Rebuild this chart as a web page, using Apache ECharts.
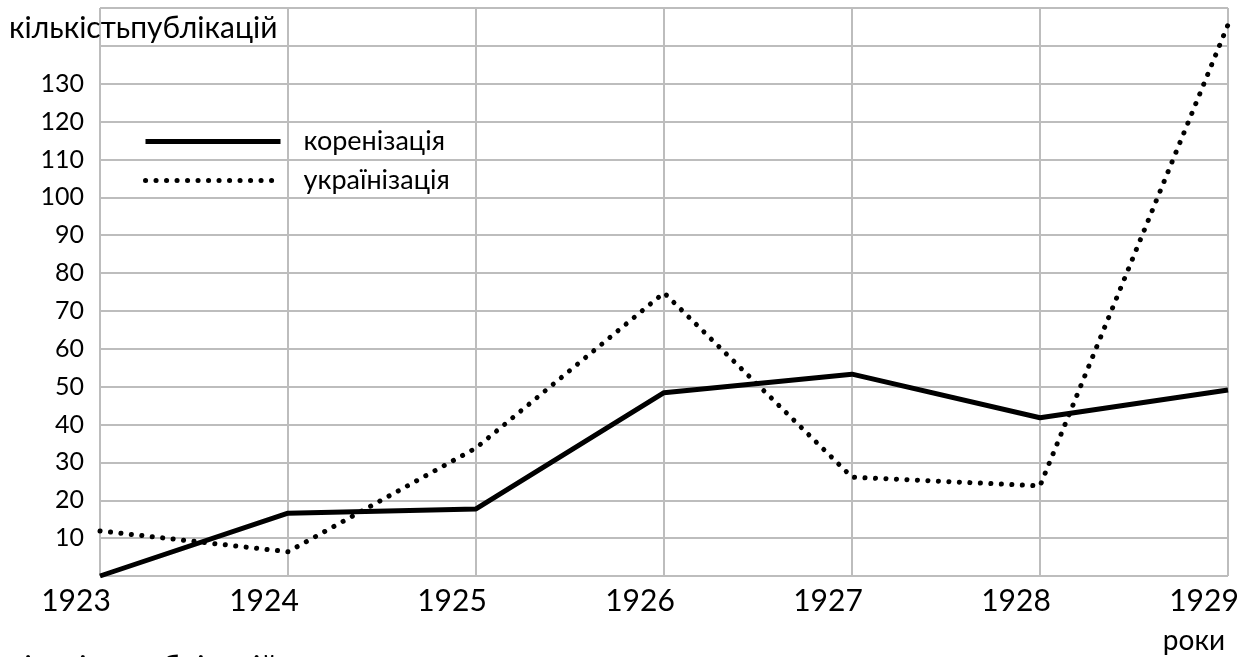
<!DOCTYPE html>
<html>
<head>
<meta charset="utf-8">
<script src="https://cdn.jsdelivr.net/npm/echarts@6/dist/echarts.min.js"></script>
<style>
  html, body { margin: 0; padding: 0; background: #fff; }
  #chart { width: 1248px; height: 657px; }
</style>
</head>
<body>
<div id="chart"></div>
<script>
// дані з графіка
const years = ['1923', '1924', '1925', '1926', '1927', '1928', '1929']
const korenizatsiia = [0, 16.6, 17.7, 48.4, 53.3, 41.8, 49.1]
const ukrainizatsiia = [11.9, 6.4, 33.8, 74.8, 26.1, 23.8, 145.6]
const seriesNames = ['коренізація', 'українізація']
const yTicksShown = [10, 20, 30, 40, 50, 60, 70, 80, 90, 100, 110, 120, 130]

const FONT = 'Lato'
const GRID_COLOR = '#bdbdbd'
const solid = { width: 5, color: '#000', opacity: 1 }
const dotted = { width: 5, color: '#000', opacity: 1, type: [0.1, 10.4], cap: 'round' }

const chartDom = document.getElementById('chart')
const myChart = echarts.init(chartDom)

const option = {
  backgroundColor: '#fff',
  animation: false,
  title: [
    {
      text: 'кількістьпублікацій',
      left: 4, top: 8,
      textStyle: { fontFamily: FONT, fontSize: 30, fontWeight: 'normal', color: '#000' }
    },
    {
      text: 'роки',
      right: 18, top: 622,
      textStyle: { fontFamily: FONT, fontSize: 28, fontWeight: 'normal', color: '#000' }
    },
    {
      // обрізаний підпис унизу
      text: 'кількістьпублікацій',
      left: 4, top: 647,
      textStyle: { fontFamily: FONT, fontSize: 30, fontWeight: 'normal', color: '#000' }
    }
  ],
  legend: {
    orient: 'vertical',
    left: 138, top: 123,
    itemWidth: 135, itemHeight: 20, itemGap: 12,
    textStyle: { fontFamily: FONT, fontSize: 27, color: '#000', padding: [0, 0, 0, 18] },
    data: [
      { name: seriesNames[0], lineStyle: solid, itemStyle: { opacity: 0 } },
      { name: seriesNames[1], lineStyle: dotted, itemStyle: { opacity: 0 } }
    ]
  },
  grid: { left: 100, right: 20, top: 8, bottom: 81 },
  xAxis: {
    type: 'category',
    data: years,
    boundaryGap: false,
    axisLine: { show: false },
    axisTick: { show: false },
    axisLabel: {
      fontFamily: FONT, fontSize: 30, color: '#000', margin: 10,
      padding: [0, 48, 0, 0]
    },
    splitLine: { show: true, lineStyle: { color: GRID_COLOR, width: 2 } }
  },
  yAxis: {
    type: 'value',
    min: 0, max: 150, interval: 10,
    axisLine: { show: false },
    axisTick: { show: false },
    axisLabel: {
      fontFamily: FONT, fontSize: 25, color: '#000', margin: 16,
      formatter: function (v) { return yTicksShown.indexOf(v) >= 0 ? String(v) : '' }
    },
    splitLine: { show: true, lineStyle: { color: GRID_COLOR, width: 2 } }
  },
  series: [
    {
      name: seriesNames[0],
      type: 'line',
      data: korenizatsiia,
      symbol: 'none',
      lineStyle: solid,
      itemStyle: { color: '#000' }
    },
    {
      name: seriesNames[1],
      type: 'line',
      data: ukrainizatsiia,
      symbol: 'none',
      lineStyle: dotted,
      itemStyle: { color: '#000' }
    }
  ]
}
option && myChart.setOption(option)
</script>
</body>
</html>
